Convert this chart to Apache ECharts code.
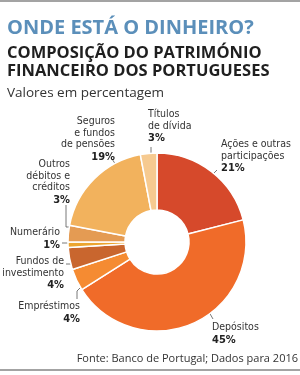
<!DOCTYPE html>
<html><head><meta charset="utf-8">
<script src="https://cdn.jsdelivr.net/npm/echarts@6/dist/echarts.min.js"></script>
<style>html,body{margin:0;padding:0;background:#fff}#c{width:300px;height:375px}</style>
</head><body><div id="c"></div>
<script>
const categories = ['Ações e outras\nparticipações','Depósitos','Empréstimos','Fundos de\ninvestimento','Numerário','Outros\ndébitos e\ncréditos','Seguros\ne fundos\nde pensões','Títulos\nde dívida'];
const values = [21,45,4,4,1,3,19,3];
const colors = ['#d6492b','#f06b29','#f58b32','#c9662e','#eca52f','#e49b53','#f2b25d','#f6ca90'];

// label annotation layout (text anchor positions and leader lines)
const labelPos = [
  {x:221,y:139,align:'left'},
  {x:212,y:322,align:'left'},
  {x:80,y:301,align:'right'},
  {x:64,y:256,align:'right'},
  {x:60,y:227,align:'right'},
  {x:70,y:159,align:'right'},
  {x:115,y:116,align:'right'},
  {x:148,y:109,align:'left'}
];
const leaders = [
  [[212,175],[217,170]],
  [[209,312],[213,319]],
  [[81,287],[77,291],[77,299]],
  [[72,264],[66,264]],
  [[70,243],[62,243]],
  [[72,227],[66,227],[66,205]],
  [[116,165],[112,159]],
  [[151,154],[151,147]]
];

const chart = echarts.init(document.getElementById('c'), null, {renderer:'canvas'});
const labelFont = "'DejaVu Sans Condensed','DejaVu Sans',sans-serif";
chart.setOption({
  animation:false,
  backgroundColor:'#fff',
  title:[
    {text:'ONDE ESTÁ O DINHEIRO?',left:2,top:13,textStyle:{color:'#5b8fba',fontSize:20,fontWeight:'bold',fontFamily:'Open Sans'}},
    {text:'COMPOSIÇÃO DO PATRIMÓNIO\nFINANCEIRO DOS PORTUGUESES',left:2,top:40,textStyle:{color:'#1f1f1f',fontSize:16.5,fontWeight:'bold',fontFamily:'Open Sans',lineHeight:17.5}},
    {text:'Valores em percentagem',left:2,top:81,textStyle:{color:'#333',fontSize:13.5,fontWeight:'normal',fontFamily:'Open Sans'}}
  ],
  graphic:[
    {type:'rect',shape:{x:0,y:0,width:300,height:2},style:{fill:'#a3a3a3'}},
    {type:'rect',shape:{x:0,y:369,width:300,height:2},style:{fill:'#a3a3a3'}},
    {type:'text',right:2,top:353,style:{text:'Fonte: Banco de Portugal; Dados para 2016',fill:'#333',font:"11px 'Open Sans'"}}
  ],
  series:[{
    type:'pie',
    center:[157,242],
    radius:[32,89],
    startAngle:90,
    clockwise:true,
    avoidLabelOverlap:false,
    itemStyle:{borderColor:'#fff',borderWidth:1.5},
    label:{
      show:true,position:'outside',
      formatter:p=>'{n|'+p.name.split('\n').join('}\n{n|')+'}\n{p|'+p.value+'%}',
      rich:{
        n:{fontSize:10.5,lineHeight:11.5,color:'#333',fontFamily:labelFont},
        p:{fontSize:11,lineHeight:13,color:'#222',fontWeight:'bold',fontFamily:labelFont}
      }
    },
    labelLine:{show:true,lineStyle:{color:'#555',width:0.8}},
    labelLayout:function(params){
      const i=params.dataIndex;const lp=labelPos[i];
      return {x:lp.x,y:lp.y,align:lp.align,verticalAlign:'top',labelLinePoints:leaders[i]};
    },
    data:categories.map((c,i)=>({name:c,value:values[i],itemStyle:{color:colors[i]},label:{align:labelPos[i].align}}))
  }]
});
</script></body></html>
